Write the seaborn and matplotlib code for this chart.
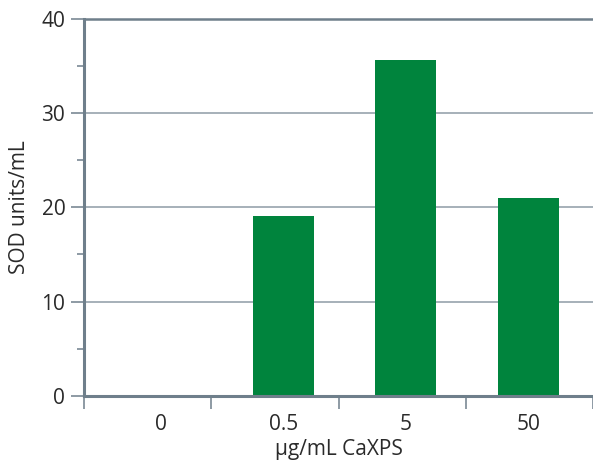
import matplotlib
matplotlib.use("Agg")
import matplotlib.pyplot as plt
import seaborn as sns
import pandas as pd
import numpy as np

# Data
concentrations = ["0", "0.5", "5", "50"]
sod_units = [0.0, 19.1, 35.6, 21.0]

df = pd.DataFrame({"conc": concentrations, "sod": sod_units})

sns.set_style("white")
plt.rcParams['font.family'] = ['Open Sans', 'DejaVu Sans']

axis_col = "#6f7f8b"
grid_col = "#8e9ba5"
green = "#00843d"
text_col = "#2a2a2a"

fig = plt.figure(figsize=(5.93, 4.63), dpi=100)
ax = fig.add_axes([0.1417, 0.1447, 0.8583, 0.8153])

sns.barplot(data=df, x="conc", y="sod", color=green, width=0.5,
            saturation=1, linewidth=0, ax=ax)

x_lo, x_hi = -0.63, 3.53
ax.set_xlim(x_lo, x_hi)
ax.set_ylim(0, 40)

# y ticks: majors labelled, minors at the halfway points
ax.set_yticks([0, 10, 20, 30, 40])
ax.set_yticks([5, 15, 25, 35], minor=True)
ax.tick_params(axis="y", which="both", left=True)
ax.tick_params(axis="y", which="major", length=9.5, width=1.1, color=axis_col,
               labelsize=15, pad=4, labelcolor=text_col)
ax.tick_params(axis="y", which="minor", length=5, width=1.1, color=axis_col)

# x ticks: labels under the bars, tick marks at group boundaries
ax.set_xticks(range(len(concentrations)))
ax.set_xticklabels(concentrations)
ax.set_xticks(np.linspace(x_lo, x_hi, len(concentrations) + 1), minor=True)
ax.tick_params(axis="x", which="both", bottom=True)
ax.tick_params(axis="x", which="major", length=0, labelsize=15, pad=13,
               labelcolor=text_col)
ax.tick_params(axis="x", which="minor", length=9, width=1.1, color=axis_col)

# grid lines behind the bars
ax.set_axisbelow(True)
ax.yaxis.grid(True, which="major", color=grid_col, linewidth=1.1)
ax.xaxis.grid(False)

for side in ["left", "bottom", "top"]:
    ax.spines[side].set_visible(True)
    ax.spines[side].set_color(axis_col)
ax.spines["left"].set_linewidth(2.2)
ax.spines["bottom"].set_linewidth(2.2)
ax.spines["top"].set_linewidth(1.8)
ax.spines["right"].set_visible(False)

ax.set_xlabel("μg/mL CaXPS", fontsize=15, color=text_col, labelpad=3)
ax.set_ylabel("SOD units/mL", fontsize=15, color=text_col, labelpad=8)

fig.savefig("out.png", dpi=100)
